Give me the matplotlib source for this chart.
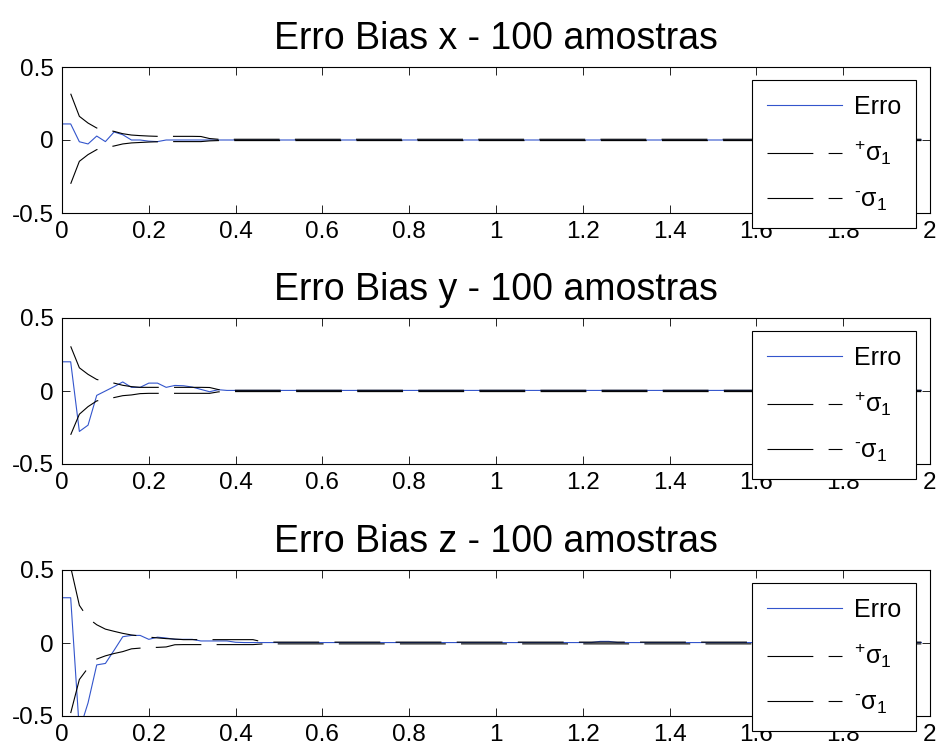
import numpy as np
import matplotlib
matplotlib.use("Agg")
import matplotlib.pyplot as plt

plt.rcParams['font.family'] = ['Liberation Sans', 'DejaVu Sans']
plt.rcParams['mathtext.fontset'] = 'custom'
plt.rcParams['mathtext.rm'] = 'Liberation Sans'
plt.rcParams['mathtext.it'] = 'Liberation Sans'
plt.rcParams['axes.unicode_minus'] = False
plt.rcParams['lines.scale_dashes'] = False

nan = np.nan
# 100 amostras, passo 0.02 s
t = np.linspace(0, 1.98, 100)

# erro bias x
erro_x = [0.11, 0.11, -0.012, -0.027, 0.027, -0.011, 0.055, 0.036, 0.0, 0.0,
          -0.008, -0.011, 0.0] + [0.0] * 87
sig_x_p = [nan, 0.317, 0.162, 0.116, 0.082, 0.07, 0.059, 0.043, 0.034, 0.03,
           0.027, 0.025, 0.025, 0.025, 0.025, 0.025, 0.024, 0.01] + [0.005] * 82
sig_x_m = [nan, -0.30, -0.146, -0.10, -0.066, -0.052, -0.041, -0.027, -0.02, -0.017,
           -0.014, -0.012, -0.011, -0.011, -0.011, -0.011, -0.011, -0.006] + [-0.004] * 82

# erro bias y
erro_y = [0.2, 0.2, -0.277, -0.234, -0.03, 0.0, 0.03, 0.062, 0.025, 0.025,
          0.054, 0.054, 0.025, 0.038, 0.036, 0.027, 0.011, -0.005, 0.009] + [0.004] * 81
sig_y_p = [nan, 0.306, 0.159, 0.114, 0.079, 0.065, 0.054, 0.039, 0.03, 0.025,
           0.025, 0.025, 0.025, 0.025, 0.025, 0.025, 0.025, 0.024, 0.01] + [0.005] * 81
sig_y_m = [nan, -0.30, -0.159, -0.107, -0.068, -0.055, -0.045, -0.032, -0.027, -0.018,
           -0.016, -0.016, -0.016, -0.016, -0.016, -0.016, -0.016, -0.016, -0.006] + [-0.004] * 81

# erro bias z
erro_z = [0.31, 0.31, -0.6, -0.41, -0.15, -0.14, -0.05, 0.043, 0.052, 0.052,
          0.025, 0.04, 0.034, 0.025, 0.025, 0.025, 0.014, 0.014, 0.014, 0.014,
          0.005] + [0.003] * 41 + [0.011, 0.011] + [0.003] * 36
sig_z_p = [nan, 0.52, 0.258, 0.17, 0.125, 0.095, 0.08, 0.066, 0.055, 0.048,
           0.04, 0.035, 0.03, 0.027, 0.023, 0.023, 0.023, 0.023, 0.023, 0.023,
           0.023, 0.023, 0.023, 0.009] + [0.006] * 76
sig_z_m = [nan, -0.48, -0.25, -0.17, -0.11, -0.088, -0.072, -0.059, -0.04, -0.035,
           -0.031, -0.03, -0.027, -0.012, -0.011, -0.011, -0.011, -0.011, -0.011, -0.011,
           -0.011, -0.011, -0.011, -0.007] + [-0.006] * 76

titulos = ['Erro Bias x - 100 amostras', 'Erro Bias y - 100 amostras',
           'Erro Bias z - 100 amostras']
erros = [erro_x, erro_y, erro_z]
sig_p = [sig_x_p, sig_y_p, sig_z_p]
sig_m = [sig_x_m, sig_y_m, sig_z_m]
rotulos = ['Erro', r'${}^{+}$σ$_{1}$', r'${}^{\text{-}}$σ$_{1}$']

W, H = 937, 749
fig = plt.figure(figsize=(W / 100, H / 100), dpi=100)
tops = [67, 318, 570]
for i in range(3):
    top = tops[i]
    ax = fig.add_axes([62 / W, 1 - (top + 146) / H, 868 / W, 146 / H])
    ax.plot(t, erros[i], color='#3355cc', lw=0.8, label=rotulos[0])
    ax.plot(t, sig_p[i], color='k', lw=0.8, ls=(0, (33, 11)), label=rotulos[1])
    ax.plot(t, sig_m[i], color='k', lw=0.8, ls=(0, (33, 11)), label=rotulos[2])
    ax.set_xlim(0, 2)
    ax.set_ylim(-0.5, 0.5)
    ax.set_xticks(np.arange(0, 2.01, 0.2))
    ax.set_xticklabels(['0', '0.2', '0.4', '0.6', '0.8', '1', '1.2', '1.4', '1.6', '1.8', '2'])
    ax.set_yticks([-0.5, 0, 0.5])
    ax.set_yticklabels(['-0.5', '0', '0.5'])
    ax.tick_params(direction='in', top=True, right=True, length=6, width=0.6,
                   labelsize=17.5, pad=6)
    for s in ax.spines.values():
        s.set_linewidth(0.8)
    ax.set_title(titulos[i], fontsize=27, pad=13)
    leg = ax.legend(loc='upper right', bbox_to_anchor=(916 / W, 1 - (top + 13) / H),
                    bbox_transform=fig.transFigure, borderaxespad=0,
                    fontsize=18, handlelength=3.0, handletextpad=0.45,
                    labelspacing=0.8, borderpad=0.6, fancybox=False,
                    framealpha=1, edgecolor='k')
    leg.get_frame().set_linewidth(0.8)
    leg.set_zorder(5)

fig.savefig('out.png', dpi=100)
